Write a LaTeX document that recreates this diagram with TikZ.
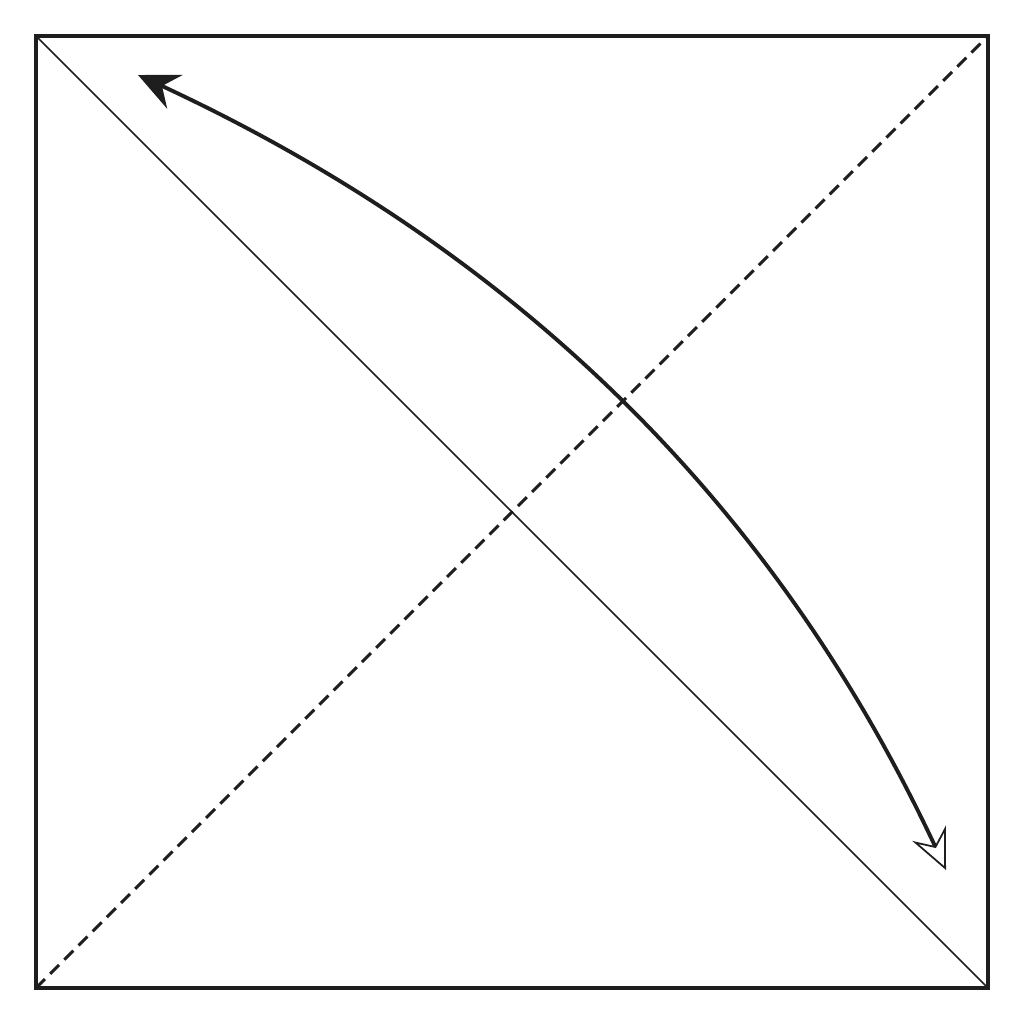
\documentclass[tikz,border=0pt]{standalone}
\usetikzlibrary{arrows.meta,bending}
\definecolor{ink}{HTML}{1E1E1E}
\tikzset{
  frame/.style={draw=ink,line width=0.9pt},
  thindiag/.style={draw=ink,line width=0.45pt},
  dashdiag/.style={draw=ink,line width=0.85pt,dash pattern=on 3.6pt off 2.1pt},
  curvearrow/.style={draw=ink,line width=1.1pt,
    {Stealth[open,length=11.5pt,width=10.5pt,inset=4pt,fill=white,line width=0.5pt]}-{Stealth[length=11.5pt,width=10.5pt,inset=4pt]}}
}
\begin{document}
\begin{tikzpicture}[x=0.01cm,y=-0.01cm]
\useasboundingbox[fill=white] (0,0) rectangle (1024,1024);
\coordinate (tl) at (36,36);
\coordinate (tr) at (988,36);
\coordinate (bl) at (36,988);
\coordinate (br) at (988,988);
\coordinate (s) at (946,870);
\coordinate (e) at (138,75);
\draw[thindiag] (tl) -- (br);
\draw[dashdiag] (bl) -- (tr);
\draw[curvearrow] (s) .. controls (782.7,507.7) and (514.3,244) .. (e);
\draw[frame] (tl) rectangle (br);
\end{tikzpicture}
\end{document}
